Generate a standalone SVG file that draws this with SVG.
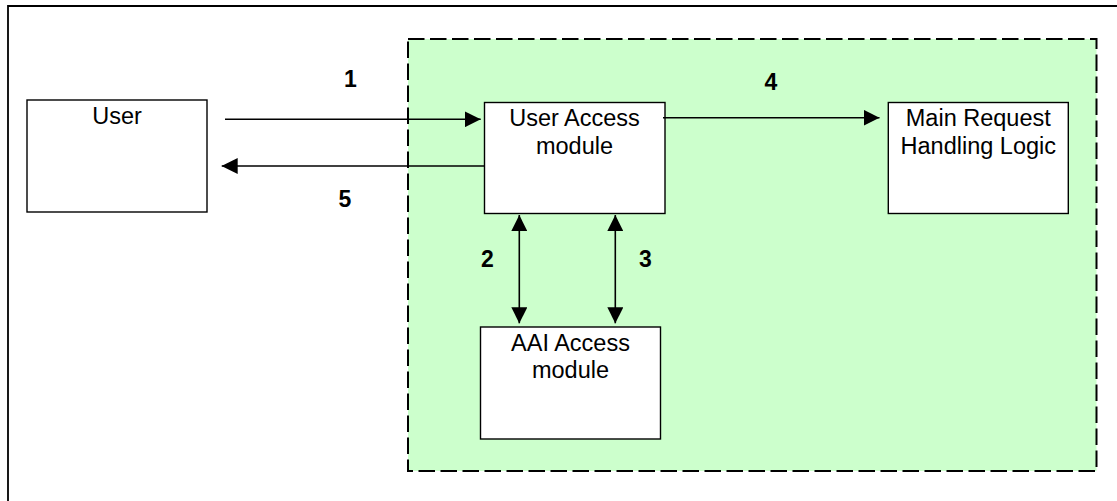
<svg xmlns="http://www.w3.org/2000/svg" width="1117" height="501" viewBox="0 0 1117 501">
  <style>
    .box { fill: #ffffff; stroke: #000000; stroke-width: 1.4; }
    .label { font-family: "Liberation Sans", Arial, sans-serif; font-size: 23.5px; fill: #000000; text-anchor: middle; }
    .num { font-family: "Liberation Sans", Arial, sans-serif; font-size: 23px; font-weight: bold; fill: #000000; text-anchor: middle; }
    .conn { stroke: #000000; stroke-width: 1.6; fill: none; }
  </style>
  <defs>
    <marker id="arrow" markerUnits="userSpaceOnUse" markerWidth="16" markerHeight="16" viewBox="0 0 15 15" refX="15" refY="7.5" orient="auto-start-reverse">
      <path d="M0,0 L15,7.5 L0,15 Z" fill="#000000"/>
    </marker>
  </defs>

  <!-- page background and outer frame -->
  <rect x="0" y="0" width="1117" height="501" fill="#ffffff"/>
  <path d="M8,501 V6 H1117" fill="none" stroke="#000000" stroke-width="1.8"/>

  <!-- system boundary (dashed, green) -->
  <g id="system-boundary">
    <rect x="408" y="39" width="688.5" height="432" fill="#ccffcc" stroke="#000000" stroke-width="2" stroke-dasharray="16.5 5.5"/>
  </g>

  <!-- nodes -->
  <g id="user">
    <rect class="box" x="27" y="100" width="180" height="112"/>
    <text class="label" x="117" y="124">User</text>
  </g>

  <g id="user-access-module">
    <rect class="box" x="484.5" y="102.5" width="180.5" height="111"/>
    <text class="label" x="574.5" y="126.3">User Access</text>
    <text class="label" x="574.5" y="154">module</text>
  </g>

  <g id="main-request-handling">
    <rect class="box" x="888.3" y="102.5" width="180" height="111"/>
    <text class="label" x="978.3" y="126">Main Request</text>
    <text class="label" x="978.3" y="154">Handling Logic</text>
  </g>

  <g id="aai-access-module">
    <rect class="box" x="480.5" y="327" width="180" height="112"/>
    <text class="label" x="570.5" y="351">AAI Access</text>
    <text class="label" x="570.5" y="378.3">module</text>
  </g>

  <!-- connectors -->
  <g id="connectors">
    <line class="conn" x1="225" y1="119.3" x2="480.7" y2="119.3" marker-end="url(#arrow)"/>
    <line class="conn" x1="484.5" y1="166" x2="221.7" y2="166" marker-end="url(#arrow)"/>
    <line class="conn" x1="663" y1="117.7" x2="879.5" y2="117.7" marker-end="url(#arrow)"/>
    <line class="conn" x1="519.3" y1="215" x2="519.3" y2="323.3" marker-start="url(#arrow)" marker-end="url(#arrow)"/>
    <line class="conn" x1="615.3" y1="215" x2="615.3" y2="323.3" marker-start="url(#arrow)" marker-end="url(#arrow)"/>
  </g>

  <!-- step numbers -->
  <g id="step-labels">
    <text class="num" x="350.5" y="87.3">1</text>
    <text class="num" x="487.5" y="266.7">2</text>
    <text class="num" x="645.5" y="266.7">3</text>
    <text class="num" x="771" y="90">4</text>
    <text class="num" x="345" y="206.7">5</text>
  </g>
</svg>
